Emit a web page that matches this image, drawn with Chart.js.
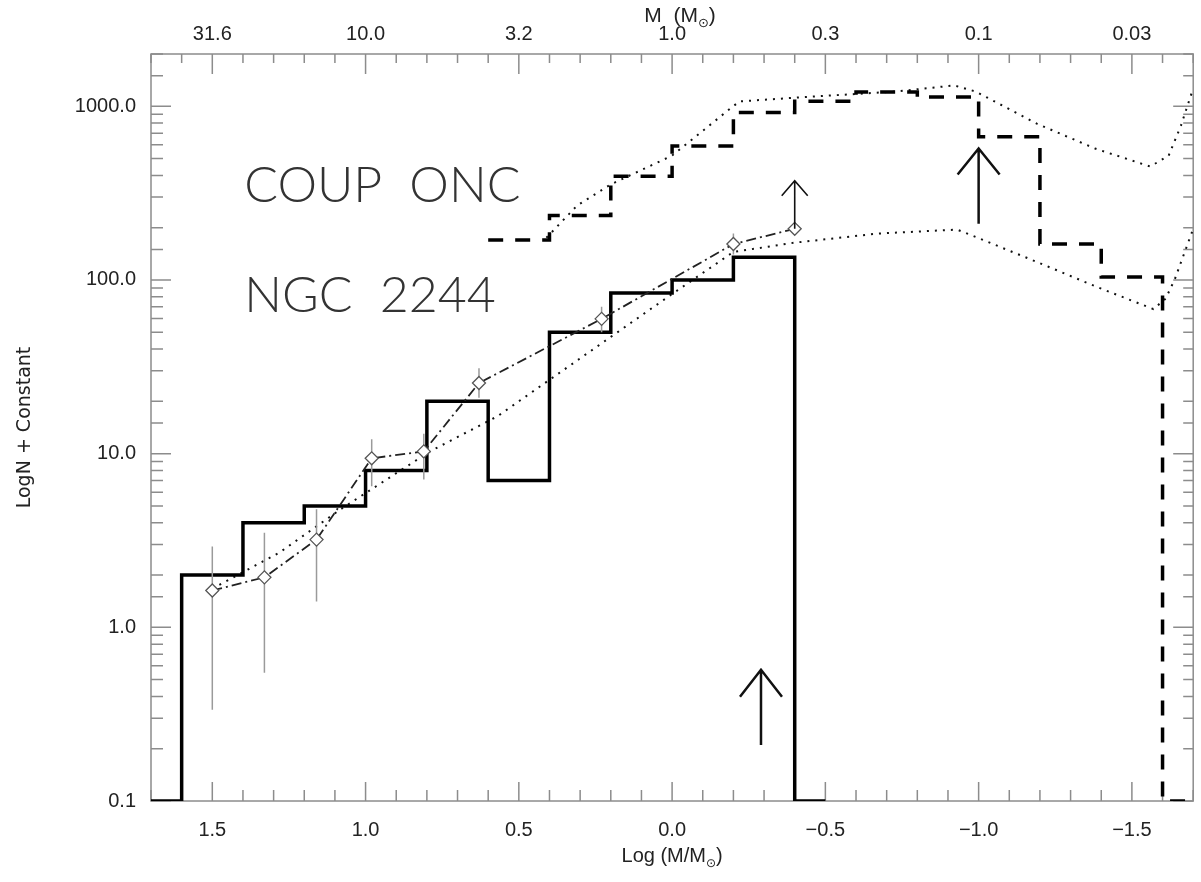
<!DOCTYPE html>
<html>
<head>
<meta charset="utf-8">
<script src="https://cdn.jsdelivr.net/npm/chart.js@4.4.1/dist/chart.umd.min.js"></script>
<style>
  html, body { margin: 0; padding: 0; background: #fff; }
</style>
</head>
<body>
<canvas id="imf" width="1201" height="882"></canvas>
<script>
'use strict';

// NGC 2244 histogram (left bin edge in log M, count)
const ngcEdges = [1.7, 1.6, 1.4, 1.2, 1.0, 0.8, 0.6, 0.4, 0.2, 0.0, -0.2, -0.4, -0.5];
const ngcCounts = [0.1, 2, 4, 5, 8, 20, 7, 50, 84, 100, 135, 0.1, 0.1];

// COUP ONC histogram
const coupEdges = [0.6, 0.4, 0.2, 0.0, -0.2, -0.4, -0.6, -0.8, -1.0, -1.2, -1.4, -1.6, -1.7];
const coupCounts = [170, 235, 395, 590, 920, 1070, 1210, 1130, 667, 161, 104, 0.1, 0.1];

// modelové křivky (tečkované)
const oncModelX = [0.41, 0.31, 0.2, 0.0, -0.19, -0.22, -0.4, -0.73, -0.92, -0.99, -1.19, -1.38, -1.56, -1.62, -1.66, -1.70];
const oncModelY = [175, 268, 355, 520, 971, 1067, 1120, 1217, 1318, 1217, 794, 571, 450, 520, 774, 1268];
const ngcModelX = [1.5, 1.28, 1.08, 0.79, 0.57, 0.2, 0.0, -0.2, -0.4, -0.67, -0.93, -0.99, -1.19, -1.38, -1.57, -1.61, -1.64, -1.70];
const ngcModelY = [1.67, 2.7, 4.8, 10.3, 16.4, 47, 83, 145, 164, 185, 195, 177, 127, 92, 68, 78, 101, 197];

// body s chybovými úsečkami
const diaX = [1.5, 1.33, 1.16, 0.98, 0.81, 0.63, 0.23, -0.2, -0.4];
const diaY = [1.63, 1.94, 3.2, 9.4, 10.3, 25.5, 59.7, 161, 197];
const errLo = [0.335, 0.548, 1.41, 6.5, 7.1, 21, 50, 140, null];
const errHi = [2.92, 3.5, 4.78, 12.1, 13, 31, 70, 185, null];

// šipky (dolní limity)
const arrowX = [-0.29, -1.0, -0.4];
const arrowFrom = [0.21, 211, 197];
const arrowTo = [0.57, 571, 373];

// popisky os
const bottomTicks = [1.5, 1.0, 0.5, 0.0, -0.5, -1.0, -1.5];
const topTickLabels = ['31.6', '10.0', '3.2', '1.0', '0.3', '0.1', '0.03'];

const toXY = (xs, ys) => xs.map((x, i) => ({ x: x, y: ys[i] }));

const errData = [];
diaX.forEach((x, i) => {
    if (errLo[i] === null) return;
    errData.push({ x: x, y: errLo[i] }, { x: x, y: errHi[i] }, { x: x, y: null });
});

const AXIS_GRAY = '#8c8c8c';
const TEXT = '#222';
const tickFont = { family: "'Liberation Sans', sans-serif", size: 20 };

// Rámeček a dovnitř směřující tiky
const framePlugin = {
    id: 'frame',
    beforeDatasetsDraw(chart) {
        const { ctx, chartArea: a, scales } = chart;
        ctx.save();
        ctx.strokeStyle = AXIS_GRAY;
        ctx.lineWidth = 1.5;
        ctx.strokeRect(a.left, a.top, a.right - a.left, a.bottom - a.top);
        ctx.beginPath();
        for (let i = -17; i <= 17; i++) {
            const px = scales.x.getPixelForValue(i / 10);
            const major = i % 5 === 0;
            ctx.moveTo(px, a.bottom); ctx.lineTo(px, a.bottom - (major ? 19 : 11));
            ctx.moveTo(px, a.top); ctx.lineTo(px, a.top + (major ? 20 : 9));
        }
        scales.y.ticks.forEach(t => {
            const py = scales.y.getPixelForValue(t.value);
            const l = Math.log10(t.value);
            const major = Math.abs(l - Math.round(l)) < 1e-6;
            ctx.moveTo(a.left, py); ctx.lineTo(a.left + (major ? 20 : 12), py);
            ctx.moveTo(a.right, py); ctx.lineTo(a.right - (major ? 20 : 10), py);
        });
        ctx.stroke();
        ctx.restore();
    }
};

// Šipky
const arrowPlugin = {
    id: 'arrows',
    afterDatasetsDraw(chart) {
        const { ctx, scales: { x, y } } = chart;
        const heads = [[21, 27, 2.5], [21, 26, 2.5], [13, 15, 1.6]];
        ctx.save();
        ctx.strokeStyle = '#111';
        arrowX.forEach((v, i) => {
            const px = x.getPixelForValue(v);
            const y0 = y.getPixelForValue(arrowFrom[i]);
            const y1 = y.getPixelForValue(arrowTo[i]);
            const [w, h, lw] = heads[i];
            ctx.lineWidth = lw;
            ctx.beginPath();
            ctx.moveTo(px, y0); ctx.lineTo(px, y1);
            ctx.moveTo(px - w, y1 + h); ctx.lineTo(px, y1); ctx.lineTo(px + w, y1 + h);
            ctx.stroke();
        });
        ctx.restore();
    }
};

function drawSunLabel(ctx, before, after, cx, baseline, size) {
    const main = size + "px 'Liberation Sans', sans-serif";
    const sub = Math.round(size * 0.6) + "px 'DejaVu Sans', sans-serif";
    ctx.font = main;
    const w1 = ctx.measureText(before).width;
    const w3 = ctx.measureText(after).width;
    ctx.font = sub;
    const w2 = ctx.measureText('\u2299').width;
    let xx = cx - (w1 + w2 + w3) / 2;
    ctx.font = main;
    ctx.fillText(before, xx, baseline);
    xx += w1;
    ctx.font = sub;
    ctx.fillText('\u2299', xx, baseline + size * 0.25);
    xx += w2;
    ctx.font = main;
    ctx.fillText(after, xx, baseline);
}

// Texty: názvy os s ⊙ a popisky hvězdokup
const textPlugin = {
    id: 'texts',
    afterDraw(chart) {
        const { ctx, chartArea: a, scales: { x, y } } = chart;
        const cx = (a.left + a.right) / 2;
        ctx.save();
        ctx.fillStyle = TEXT;
        ctx.textAlign = 'left';
        ctx.textBaseline = 'alphabetic';
        drawSunLabel(ctx, 'Log (M/M', ')', cx, 862, 20);
        drawSunLabel(ctx, 'M  (M', ')', cx + 8, 22, 21);

        ctx.fillStyle = '#333';
        ctx.font = "300 50px Lato, 'DejaVu Sans', sans-serif";
        ctx.fillText('COUP  ONC', x.getPixelForValue(1.396), y.getPixelForValue(282));
        ctx.fillText('NGC  2244', x.getPixelForValue(1.396), y.getPixelForValue(65.5));
        ctx.restore();
    }
};

new Chart(document.getElementById('imf'), {
    type: 'line',
    data: {
        datasets: [{
            label: 'NGC 2244 IMF',
            data: toXY(diaX, diaY),
            borderColor: '#222',
            borderWidth: 1.8,
            borderDash: [10, 4, 2, 4],
            pointStyle: 'rectRot',
            pointRadius: 6.5,
            pointBorderColor: '#555',
            pointBackgroundColor: '#fff',
            pointBorderWidth: 1.3
        }, {
            label: 'Chyby',
            data: errData,
            borderColor: '#9a9a9a',
            borderWidth: 1.5,
            pointRadius: 0,
            spanGaps: false
        }, {
            label: 'NGC 2244',
            data: toXY(ngcEdges, ngcCounts),
            stepped: 'before',
            borderColor: '#000',
            borderWidth: 3.5,
            pointRadius: 0
        }, {
            label: 'COUP ONC',
            data: toXY(coupEdges, coupCounts),
            stepped: 'before',
            borderColor: '#000',
            borderWidth: 3.5,
            borderDash: [15, 12],
            pointRadius: 0
        }, {
            label: 'ONC model',
            data: toXY(oncModelX, oncModelY),
            borderColor: '#111',
            borderWidth: 2,
            borderDash: [2, 6],
            pointRadius: 0
        }, {
            label: 'NGC model',
            data: toXY(ngcModelX, ngcModelY),
            borderColor: '#111',
            borderWidth: 2,
            borderDash: [2, 6],
            pointRadius: 0
        }]
    },
    options: {
        responsive: false,
        animation: false,
        devicePixelRatio: 1,
        layout: { padding: { left: 0, right: 2, top: 0, bottom: 0 } },
        scales: {
            x: {
                type: 'linear',
                position: 'bottom',
                reverse: true,
                min: -1.7,
                max: 1.7,
                afterFit: s => { s.height = 81; },
                grid: { display: false, drawTicks: false },
                border: { display: false },
                ticks: {
                    stepSize: 0.5,
                    includeBounds: false,
                    autoSkip: false,
                    maxRotation: 0,
                    padding: 17,
                    color: TEXT,
                    font: tickFont,
                    callback: v => bottomTicks.some(b => Math.abs(b - v) < 1e-6) ? Number(v).toFixed(1).replace('-', '\u2212') : ''
                }
            },
            x2: {
                type: 'linear',
                position: 'top',
                reverse: true,
                min: -1.7,
                max: 1.7,
                afterFit: s => { s.height = 54; },
                grid: { display: false, drawTicks: false },
                border: { display: false },
                ticks: {
                    stepSize: 0.5,
                    includeBounds: false,
                    autoSkip: false,
                    maxRotation: 0,
                    padding: 8,
                    color: TEXT,
                    font: tickFont,
                    callback: v => {
                        const i = bottomTicks.findIndex(b => Math.abs(b - v) < 1e-6);
                        return i >= 0 ? topTickLabels[i] : '';
                    }
                }
            },
            y: {
                type: 'logarithmic',
                min: 0.1,
                max: 2000,
                afterFit: s => { s.width = 151; },
                grid: { display: false, drawTicks: false },
                border: { display: false },
                title: {
                    display: true,
                    text: 'LogN + Constant',
                    color: TEXT,
                    font: { family: "'DejaVu Sans', sans-serif", size: 19 },
                    padding: { top: 14, bottom: 0 }
                },
                ticks: {
                    autoSkip: false,
                    padding: 15,
                    color: TEXT,
                    font: tickFont,
                    callback: v => {
                        const l = Math.log10(v);
                        return Math.abs(l - Math.round(l)) < 1e-6 ? Number(v).toFixed(1) : '';
                    }
                }
            }
        },
        plugins: {
            legend: { display: false },
            tooltip: { enabled: false }
        }
    },
    plugins: [framePlugin, arrowPlugin, textPlugin]
});
</script>
</body>
</html>
